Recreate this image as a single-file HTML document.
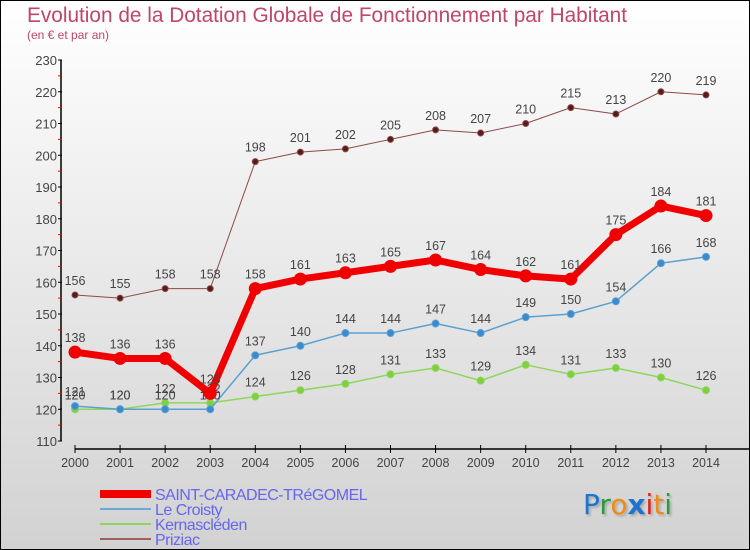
<!DOCTYPE html>
<html><head><meta charset="utf-8"><style>
html,body{margin:0;padding:0}
body{width:750px;height:550px;overflow:hidden;font-family:"Liberation Sans",sans-serif}
#wrap{position:relative;width:748px;height:548px;border:1px solid #000;background:linear-gradient(#ffffff,#d2d2d2)}
.t{position:absolute;color:#c0456a;white-space:nowrap}
</style></head><body>
<div id="wrap">
<div class="t" style="left:26px;top:3px;font-size:20.8px">Evolution de la Dotation Globale de Fonctionnement par Habitant</div>
<div class="t" style="left:26px;top:27px;font-size:12px">(en € et par an)</div>
<svg id="chart" width="750" height="550" style="position:absolute;left:-1px;top:-1px"></svg>
<div style="position:absolute;left:582px;top:487px;font-size:28px;font-family:'DejaVu Sans',sans-serif;text-shadow:2px 2px 2px #aaa"><span style="color:#1a74d0">P</span><span style="color:#2a9a3a">r</span><span style="color:#f08a10">o</span><span style="color:#1a74d0;font-weight:bold">x</span><span style="color:#e02020">i</span><span style="color:#f08a10">t</span><span style="color:#2a9a3a">i</span></div>
</div>
<script>
const years=[2000,2001,2002,2003,2004,2005,2006,2007,2008,2009,2010,2011,2012,2013,2014];
const yTicks=[110,120,130,140,150,160,170,180,190,200,210,220,230];
const saint=[138,136,136,125,158,161,163,165,167,164,162,161,175,184,181];
const croisty=[121,120,120,120,137,140,144,144,147,144,149,150,154,166,168];
const kern=[120,120,122,122,124,126,128,131,133,129,134,131,133,130,126];
const priziac=[156,155,158,158,198,201,202,205,208,207,210,215,213,220,219];
const seriesNames=["SAINT-CARADEC-TRéGOMEL","Le Croisty","Kernascléden","Priziac"];
const NS="http://www.w3.org/2000/svg";
const svg=document.getElementById('chart');
function x(i){return 75+i*(706-75)/(years.length-1);}
function y(v){return 441-(v-110)*(441-60)/120;}
function mk(tag,attrs,parent){const e=document.createElementNS(NS,tag);for(const k in attrs)e.setAttribute(k,attrs[k]);(parent||svg).appendChild(e);return e;}
let ax=mk('line',{x1:61,y1:60,x2:61,y2:441,stroke:'#000','stroke-width':1.5});


yTicks.forEach(v=>{
  mk('line',{x1:58,y1:y(v),x2:62,y2:y(v),stroke:'#000'});
  if(v<230)mk('line',{x1:58,y1:y(v+5),x2:61,y2:y(v+5),stroke:'#f00'});
  const t=mk('text',{x:57,y:y(v)+5,'text-anchor':'end','font-size':13,fill:'#444','font-family':'Liberation Sans'});
  
  
  t.textContent=v;
});
let xa=mk('line',{x1:75,y1:449,x2:750,y2:449,stroke:'#000','stroke-width':1.5});


years.forEach((yr,i)=>{
  mk('line',{x1:x(i),y1:445,x2:x(i),y2:453,stroke:'#000'});
  const t=mk('text',{x:x(i),y:467,'text-anchor':'middle','font-size':12.5,fill:'#444','font-family':'Liberation Sans'});
  
  
  t.textContent=yr;
});
function drawSeries(vals,color,lw,r,ptFill,name){
  const g=mk('g',{});
  
  
  mk('polyline',{points:vals.map((v,i)=>x(i)+','+y(v)).join(' '),fill:'none',stroke:color,'stroke-width':lw,'stroke-linejoin':'round'},g);
  vals.forEach((v,i)=>{
    const c=mk('circle',{cx:x(i),cy:y(v),r:r,fill:ptFill,stroke:color,'stroke-width':1},g);
    
    
    const t=mk('text',{x:x(i),y:y(v)-10,'text-anchor':'middle','font-size':12.5,fill:'#444','font-family':'Liberation Sans'},g);
    
    
    t.textContent=v;
  });
}
drawSeries(priziac,'#8b4a4a',1,3,'#5a1a1a','series-priziac');
drawSeries(kern,'#8ed65a',1.5,3.5,'#7ed040','series-kernascleden');
drawSeries(croisty,'#5ba0d0',1.5,3.5,'#3a8ad0','series-le-croisty');
drawSeries(saint,'#f00000',7,6,'#f00000','series-saint-caradec');
const leg=[['#f00000',8],['#6aaad8',2],['#8ed65a',2],['#a06060',2]];
seriesNames.forEach((n,i)=>{
  const yy=494+i*15;
  const g=mk('g',{});
  
  
  mk('line',{x1:100,y1:yy,x2:151,y2:yy,stroke:leg[i][0],'stroke-width':leg[i][1]},g);
  const t=mk('text',{x:155,y:yy+6,'font-size':16,fill:'#6666ee','font-family':'Liberation Sans','letter-spacing':'-0.5'},g);
  t.textContent=n;
});
</script>
</body></html>
